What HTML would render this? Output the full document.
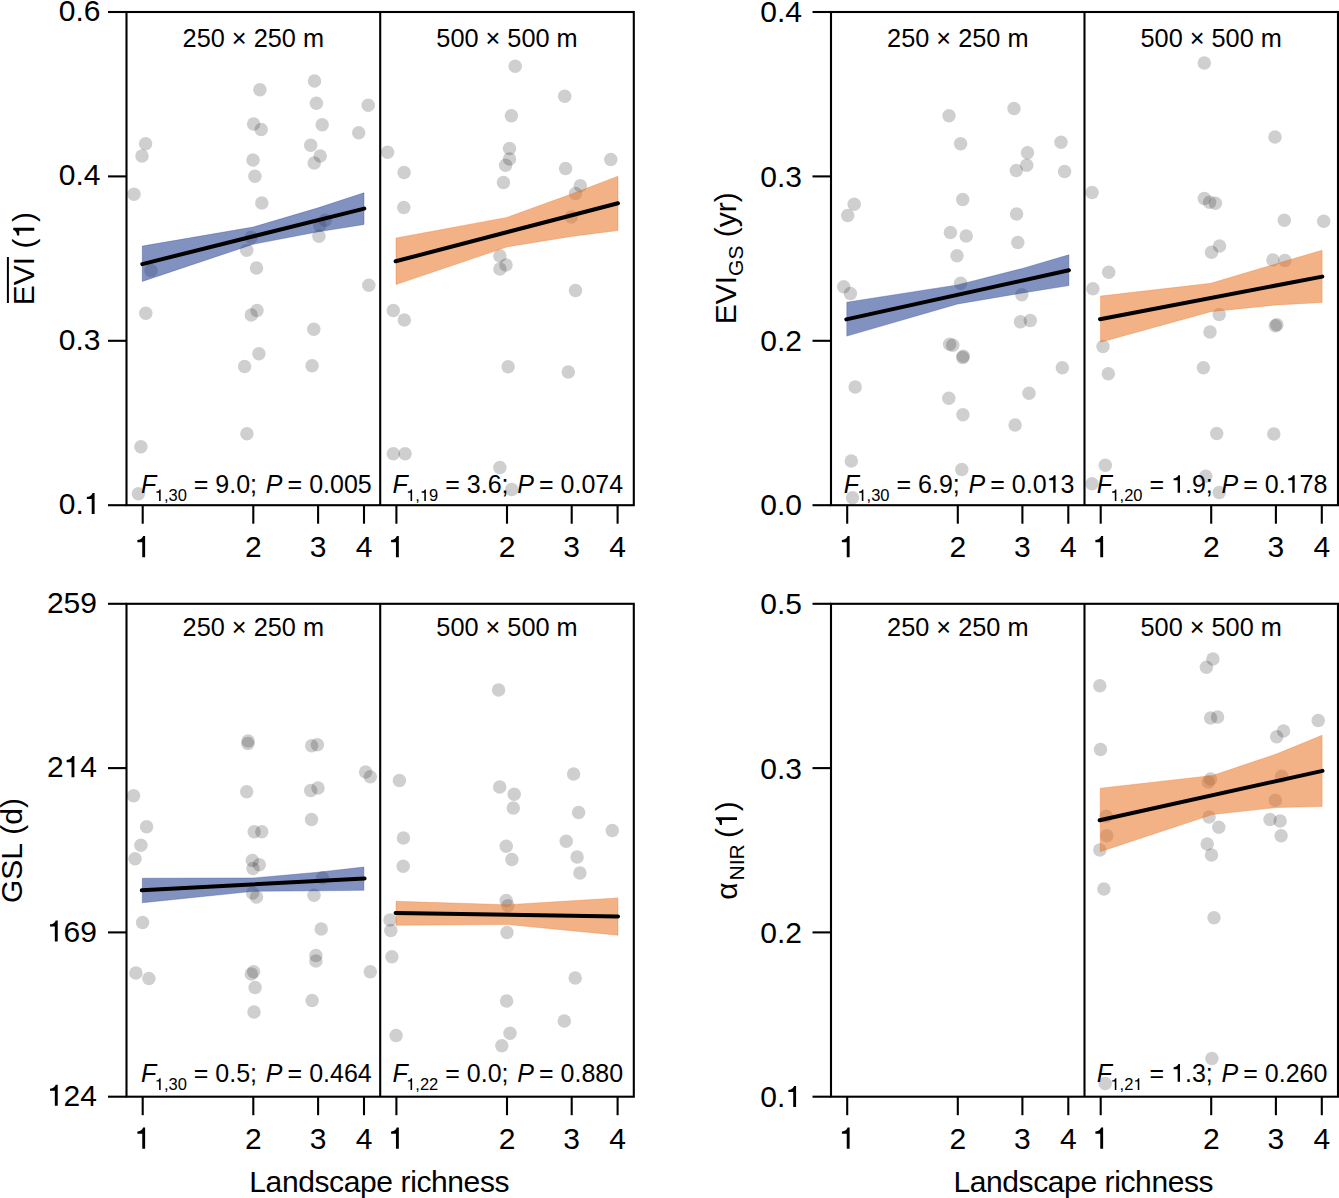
<!DOCTYPE html>
<html><head><meta charset="utf-8"><style>
html,body{margin:0;padding:0;background:#fff;}
body{width:1339px;height:1198px;overflow:hidden;}
svg{display:block;}
text{font-family:"Liberation Sans", sans-serif;font-kerning:none;}
</style></head><body>
<svg width="1339" height="1198" viewBox="0 0 1339 1198" font-family='"Liberation Sans", sans-serif'>
<rect width="1339" height="1198" fill="#fff"/>
<circle cx="314.5" cy="80.9" r="6.75" fill="#000" fill-opacity="0.19"/>
<circle cx="259.9" cy="89.8" r="6.75" fill="#000" fill-opacity="0.19"/>
<circle cx="316.4" cy="103.3" r="6.75" fill="#000" fill-opacity="0.19"/>
<circle cx="368.2" cy="105.2" r="6.75" fill="#000" fill-opacity="0.19"/>
<circle cx="322.2" cy="124.8" r="6.75" fill="#000" fill-opacity="0.19"/>
<circle cx="253.6" cy="123.9" r="6.75" fill="#000" fill-opacity="0.19"/>
<circle cx="261.2" cy="129.6" r="6.75" fill="#000" fill-opacity="0.19"/>
<circle cx="358.7" cy="132.7" r="6.75" fill="#000" fill-opacity="0.19"/>
<circle cx="145.6" cy="143.7" r="6.75" fill="#000" fill-opacity="0.19"/>
<circle cx="142.0" cy="155.9" r="6.75" fill="#000" fill-opacity="0.19"/>
<circle cx="310.7" cy="145.2" r="6.75" fill="#000" fill-opacity="0.19"/>
<circle cx="320.2" cy="156.1" r="6.75" fill="#000" fill-opacity="0.19"/>
<circle cx="314.2" cy="162.9" r="6.75" fill="#000" fill-opacity="0.19"/>
<circle cx="253.0" cy="160.1" r="6.75" fill="#000" fill-opacity="0.19"/>
<circle cx="254.9" cy="176.3" r="6.75" fill="#000" fill-opacity="0.19"/>
<circle cx="134.0" cy="194.2" r="6.75" fill="#000" fill-opacity="0.19"/>
<circle cx="261.8" cy="202.9" r="6.75" fill="#000" fill-opacity="0.19"/>
<circle cx="325.2" cy="220.2" r="6.75" fill="#000" fill-opacity="0.19"/>
<circle cx="319.7" cy="225.2" r="6.75" fill="#000" fill-opacity="0.19"/>
<circle cx="318.9" cy="236.2" r="6.75" fill="#000" fill-opacity="0.19"/>
<circle cx="251.1" cy="237.2" r="6.75" fill="#000" fill-opacity="0.19"/>
<circle cx="246.7" cy="250.2" r="6.75" fill="#000" fill-opacity="0.19"/>
<circle cx="151.0" cy="270.6" r="6.75" fill="#000" fill-opacity="0.19"/>
<circle cx="256.5" cy="268.1" r="6.75" fill="#000" fill-opacity="0.19"/>
<circle cx="368.8" cy="285.2" r="6.75" fill="#000" fill-opacity="0.19"/>
<circle cx="145.8" cy="313.2" r="6.75" fill="#000" fill-opacity="0.19"/>
<circle cx="257.0" cy="310.4" r="6.75" fill="#000" fill-opacity="0.19"/>
<circle cx="251.3" cy="314.9" r="6.75" fill="#000" fill-opacity="0.19"/>
<circle cx="313.8" cy="329.2" r="6.75" fill="#000" fill-opacity="0.19"/>
<circle cx="258.9" cy="353.8" r="6.75" fill="#000" fill-opacity="0.19"/>
<circle cx="244.6" cy="366.5" r="6.75" fill="#000" fill-opacity="0.19"/>
<circle cx="312.1" cy="365.8" r="6.75" fill="#000" fill-opacity="0.19"/>
<circle cx="246.9" cy="433.8" r="6.75" fill="#000" fill-opacity="0.19"/>
<circle cx="140.9" cy="446.7" r="6.75" fill="#000" fill-opacity="0.19"/>
<circle cx="138.4" cy="493.7" r="6.75" fill="#000" fill-opacity="0.19"/>
<circle cx="515.2" cy="66.2" r="6.75" fill="#000" fill-opacity="0.19"/>
<circle cx="564.7" cy="96.3" r="6.75" fill="#000" fill-opacity="0.19"/>
<circle cx="511.4" cy="115.7" r="6.75" fill="#000" fill-opacity="0.19"/>
<circle cx="387.6" cy="152.3" r="6.75" fill="#000" fill-opacity="0.19"/>
<circle cx="509.5" cy="148.6" r="6.75" fill="#000" fill-opacity="0.19"/>
<circle cx="509.5" cy="159.1" r="6.75" fill="#000" fill-opacity="0.19"/>
<circle cx="505.6" cy="165.2" r="6.75" fill="#000" fill-opacity="0.19"/>
<circle cx="610.8" cy="159.5" r="6.75" fill="#000" fill-opacity="0.19"/>
<circle cx="404.1" cy="172.5" r="6.75" fill="#000" fill-opacity="0.19"/>
<circle cx="565.6" cy="168.5" r="6.75" fill="#000" fill-opacity="0.19"/>
<circle cx="503.4" cy="182.4" r="6.75" fill="#000" fill-opacity="0.19"/>
<circle cx="580.3" cy="185.8" r="6.75" fill="#000" fill-opacity="0.19"/>
<circle cx="575.5" cy="193.4" r="6.75" fill="#000" fill-opacity="0.19"/>
<circle cx="403.8" cy="207.5" r="6.75" fill="#000" fill-opacity="0.19"/>
<circle cx="571.3" cy="217.0" r="6.75" fill="#000" fill-opacity="0.19"/>
<circle cx="499.9" cy="256.1" r="6.75" fill="#000" fill-opacity="0.19"/>
<circle cx="506.0" cy="264.9" r="6.75" fill="#000" fill-opacity="0.19"/>
<circle cx="499.9" cy="269.0" r="6.75" fill="#000" fill-opacity="0.19"/>
<circle cx="575.5" cy="290.6" r="6.75" fill="#000" fill-opacity="0.19"/>
<circle cx="393.3" cy="310.4" r="6.75" fill="#000" fill-opacity="0.19"/>
<circle cx="404.3" cy="320.1" r="6.75" fill="#000" fill-opacity="0.19"/>
<circle cx="508.1" cy="366.7" r="6.75" fill="#000" fill-opacity="0.19"/>
<circle cx="568.3" cy="371.9" r="6.75" fill="#000" fill-opacity="0.19"/>
<circle cx="393.3" cy="453.7" r="6.75" fill="#000" fill-opacity="0.19"/>
<circle cx="405.1" cy="453.7" r="6.75" fill="#000" fill-opacity="0.19"/>
<circle cx="499.9" cy="467.6" r="6.75" fill="#000" fill-opacity="0.19"/>
<circle cx="511.7" cy="489.5" r="6.75" fill="#000" fill-opacity="0.19"/>
<circle cx="1014.0" cy="108.6" r="6.75" fill="#000" fill-opacity="0.19"/>
<circle cx="949.0" cy="115.8" r="6.75" fill="#000" fill-opacity="0.19"/>
<circle cx="960.6" cy="143.8" r="6.75" fill="#000" fill-opacity="0.19"/>
<circle cx="1061.0" cy="142.3" r="6.75" fill="#000" fill-opacity="0.19"/>
<circle cx="1027.5" cy="152.7" r="6.75" fill="#000" fill-opacity="0.19"/>
<circle cx="1026.7" cy="165.3" r="6.75" fill="#000" fill-opacity="0.19"/>
<circle cx="1016.3" cy="170.6" r="6.75" fill="#000" fill-opacity="0.19"/>
<circle cx="1064.6" cy="171.4" r="6.75" fill="#000" fill-opacity="0.19"/>
<circle cx="854.2" cy="204.2" r="6.75" fill="#000" fill-opacity="0.19"/>
<circle cx="847.7" cy="215.6" r="6.75" fill="#000" fill-opacity="0.19"/>
<circle cx="962.7" cy="199.6" r="6.75" fill="#000" fill-opacity="0.19"/>
<circle cx="1016.6" cy="213.9" r="6.75" fill="#000" fill-opacity="0.19"/>
<circle cx="950.4" cy="232.6" r="6.75" fill="#000" fill-opacity="0.19"/>
<circle cx="966.2" cy="235.9" r="6.75" fill="#000" fill-opacity="0.19"/>
<circle cx="1017.8" cy="242.5" r="6.75" fill="#000" fill-opacity="0.19"/>
<circle cx="957.0" cy="255.7" r="6.75" fill="#000" fill-opacity="0.19"/>
<circle cx="843.7" cy="286.8" r="6.75" fill="#000" fill-opacity="0.19"/>
<circle cx="850.4" cy="293.4" r="6.75" fill="#000" fill-opacity="0.19"/>
<circle cx="960.6" cy="283.3" r="6.75" fill="#000" fill-opacity="0.19"/>
<circle cx="1021.8" cy="294.7" r="6.75" fill="#000" fill-opacity="0.19"/>
<circle cx="1020.4" cy="321.8" r="6.75" fill="#000" fill-opacity="0.19"/>
<circle cx="1030.3" cy="320.5" r="6.75" fill="#000" fill-opacity="0.19"/>
<circle cx="949.6" cy="344.3" r="6.75" fill="#000" fill-opacity="0.19"/>
<circle cx="952.8" cy="345.2" r="6.75" fill="#000" fill-opacity="0.19"/>
<circle cx="963.3" cy="356.3" r="6.75" fill="#000" fill-opacity="0.19"/>
<circle cx="962.7" cy="357.6" r="6.75" fill="#000" fill-opacity="0.19"/>
<circle cx="1062.3" cy="367.7" r="6.75" fill="#000" fill-opacity="0.19"/>
<circle cx="855.2" cy="386.9" r="6.75" fill="#000" fill-opacity="0.19"/>
<circle cx="948.8" cy="398.3" r="6.75" fill="#000" fill-opacity="0.19"/>
<circle cx="1029.0" cy="393.2" r="6.75" fill="#000" fill-opacity="0.19"/>
<circle cx="962.9" cy="414.8" r="6.75" fill="#000" fill-opacity="0.19"/>
<circle cx="1015.1" cy="425.0" r="6.75" fill="#000" fill-opacity="0.19"/>
<circle cx="851.3" cy="460.9" r="6.75" fill="#000" fill-opacity="0.19"/>
<circle cx="961.8" cy="469.5" r="6.75" fill="#000" fill-opacity="0.19"/>
<circle cx="852.5" cy="497.7" r="6.75" fill="#000" fill-opacity="0.19"/>
<circle cx="1204.3" cy="62.9" r="6.75" fill="#000" fill-opacity="0.19"/>
<circle cx="1275.0" cy="137.1" r="6.75" fill="#000" fill-opacity="0.19"/>
<circle cx="1092.1" cy="192.4" r="6.75" fill="#000" fill-opacity="0.19"/>
<circle cx="1204.3" cy="198.6" r="6.75" fill="#000" fill-opacity="0.19"/>
<circle cx="1209.6" cy="202.3" r="6.75" fill="#000" fill-opacity="0.19"/>
<circle cx="1215.4" cy="203.2" r="6.75" fill="#000" fill-opacity="0.19"/>
<circle cx="1284.3" cy="220.3" r="6.75" fill="#000" fill-opacity="0.19"/>
<circle cx="1323.7" cy="221.3" r="6.75" fill="#000" fill-opacity="0.19"/>
<circle cx="1219.5" cy="246.0" r="6.75" fill="#000" fill-opacity="0.19"/>
<circle cx="1211.5" cy="252.3" r="6.75" fill="#000" fill-opacity="0.19"/>
<circle cx="1272.9" cy="259.9" r="6.75" fill="#000" fill-opacity="0.19"/>
<circle cx="1284.9" cy="260.5" r="6.75" fill="#000" fill-opacity="0.19"/>
<circle cx="1108.7" cy="272.3" r="6.75" fill="#000" fill-opacity="0.19"/>
<circle cx="1092.9" cy="288.7" r="6.75" fill="#000" fill-opacity="0.19"/>
<circle cx="1219.2" cy="314.4" r="6.75" fill="#000" fill-opacity="0.19"/>
<circle cx="1210.0" cy="331.9" r="6.75" fill="#000" fill-opacity="0.19"/>
<circle cx="1276.9" cy="324.8" r="6.75" fill="#000" fill-opacity="0.19"/>
<circle cx="1275.3" cy="325.8" r="6.75" fill="#000" fill-opacity="0.19"/>
<circle cx="1103.0" cy="346.5" r="6.75" fill="#000" fill-opacity="0.19"/>
<circle cx="1108.3" cy="373.8" r="6.75" fill="#000" fill-opacity="0.19"/>
<circle cx="1203.4" cy="367.7" r="6.75" fill="#000" fill-opacity="0.19"/>
<circle cx="1216.7" cy="433.4" r="6.75" fill="#000" fill-opacity="0.19"/>
<circle cx="1273.8" cy="434.0" r="6.75" fill="#000" fill-opacity="0.19"/>
<circle cx="1105.3" cy="465.3" r="6.75" fill="#000" fill-opacity="0.19"/>
<circle cx="1092.0" cy="483.8" r="6.75" fill="#000" fill-opacity="0.19"/>
<circle cx="1205.8" cy="476.2" r="6.75" fill="#000" fill-opacity="0.19"/>
<circle cx="1219.2" cy="492.4" r="6.75" fill="#000" fill-opacity="0.19"/>
<circle cx="248.1" cy="740.9" r="6.75" fill="#000" fill-opacity="0.19"/>
<circle cx="247.9" cy="743.4" r="6.75" fill="#000" fill-opacity="0.19"/>
<circle cx="311.7" cy="745.7" r="6.75" fill="#000" fill-opacity="0.19"/>
<circle cx="317.4" cy="744.7" r="6.75" fill="#000" fill-opacity="0.19"/>
<circle cx="365.6" cy="772.0" r="6.75" fill="#000" fill-opacity="0.19"/>
<circle cx="370.3" cy="776.7" r="6.75" fill="#000" fill-opacity="0.19"/>
<circle cx="133.6" cy="795.8" r="6.75" fill="#000" fill-opacity="0.19"/>
<circle cx="246.7" cy="791.8" r="6.75" fill="#000" fill-opacity="0.19"/>
<circle cx="310.7" cy="790.4" r="6.75" fill="#000" fill-opacity="0.19"/>
<circle cx="318.0" cy="788.0" r="6.75" fill="#000" fill-opacity="0.19"/>
<circle cx="146.6" cy="826.8" r="6.75" fill="#000" fill-opacity="0.19"/>
<circle cx="311.5" cy="819.5" r="6.75" fill="#000" fill-opacity="0.19"/>
<circle cx="254.2" cy="831.8" r="6.75" fill="#000" fill-opacity="0.19"/>
<circle cx="261.8" cy="831.8" r="6.75" fill="#000" fill-opacity="0.19"/>
<circle cx="140.9" cy="845.2" r="6.75" fill="#000" fill-opacity="0.19"/>
<circle cx="135.0" cy="858.7" r="6.75" fill="#000" fill-opacity="0.19"/>
<circle cx="252.3" cy="860.4" r="6.75" fill="#000" fill-opacity="0.19"/>
<circle cx="259.3" cy="864.8" r="6.75" fill="#000" fill-opacity="0.19"/>
<circle cx="253.0" cy="868.6" r="6.75" fill="#000" fill-opacity="0.19"/>
<circle cx="322.5" cy="877.7" r="6.75" fill="#000" fill-opacity="0.19"/>
<circle cx="252.6" cy="892.9" r="6.75" fill="#000" fill-opacity="0.19"/>
<circle cx="256.5" cy="897.1" r="6.75" fill="#000" fill-opacity="0.19"/>
<circle cx="314.0" cy="895.2" r="6.75" fill="#000" fill-opacity="0.19"/>
<circle cx="142.6" cy="922.5" r="6.75" fill="#000" fill-opacity="0.19"/>
<circle cx="321.2" cy="928.9" r="6.75" fill="#000" fill-opacity="0.19"/>
<circle cx="315.9" cy="955.6" r="6.75" fill="#000" fill-opacity="0.19"/>
<circle cx="315.9" cy="960.9" r="6.75" fill="#000" fill-opacity="0.19"/>
<circle cx="135.9" cy="972.9" r="6.75" fill="#000" fill-opacity="0.19"/>
<circle cx="148.9" cy="978.4" r="6.75" fill="#000" fill-opacity="0.19"/>
<circle cx="253.6" cy="971.8" r="6.75" fill="#000" fill-opacity="0.19"/>
<circle cx="251.3" cy="973.9" r="6.75" fill="#000" fill-opacity="0.19"/>
<circle cx="255.1" cy="987.6" r="6.75" fill="#000" fill-opacity="0.19"/>
<circle cx="370.3" cy="971.8" r="6.75" fill="#000" fill-opacity="0.19"/>
<circle cx="312.1" cy="1000.5" r="6.75" fill="#000" fill-opacity="0.19"/>
<circle cx="254.0" cy="1012.0" r="6.75" fill="#000" fill-opacity="0.19"/>
<circle cx="498.6" cy="689.9" r="6.75" fill="#000" fill-opacity="0.19"/>
<circle cx="399.4" cy="780.5" r="6.75" fill="#000" fill-opacity="0.19"/>
<circle cx="499.7" cy="787.0" r="6.75" fill="#000" fill-opacity="0.19"/>
<circle cx="514.2" cy="794.3" r="6.75" fill="#000" fill-opacity="0.19"/>
<circle cx="513.3" cy="808.0" r="6.75" fill="#000" fill-opacity="0.19"/>
<circle cx="573.6" cy="773.9" r="6.75" fill="#000" fill-opacity="0.19"/>
<circle cx="578.6" cy="812.4" r="6.75" fill="#000" fill-opacity="0.19"/>
<circle cx="612.3" cy="830.4" r="6.75" fill="#000" fill-opacity="0.19"/>
<circle cx="403.4" cy="838.1" r="6.75" fill="#000" fill-opacity="0.19"/>
<circle cx="566.2" cy="841.2" r="6.75" fill="#000" fill-opacity="0.19"/>
<circle cx="506.2" cy="846.2" r="6.75" fill="#000" fill-opacity="0.19"/>
<circle cx="577.1" cy="857.1" r="6.75" fill="#000" fill-opacity="0.19"/>
<circle cx="511.9" cy="859.6" r="6.75" fill="#000" fill-opacity="0.19"/>
<circle cx="403.2" cy="866.2" r="6.75" fill="#000" fill-opacity="0.19"/>
<circle cx="579.9" cy="872.9" r="6.75" fill="#000" fill-opacity="0.19"/>
<circle cx="506.2" cy="900.6" r="6.75" fill="#000" fill-opacity="0.19"/>
<circle cx="507.9" cy="905.7" r="6.75" fill="#000" fill-opacity="0.19"/>
<circle cx="390.0" cy="920.0" r="6.75" fill="#000" fill-opacity="0.19"/>
<circle cx="390.8" cy="930.5" r="6.75" fill="#000" fill-opacity="0.19"/>
<circle cx="507.0" cy="932.4" r="6.75" fill="#000" fill-opacity="0.19"/>
<circle cx="391.9" cy="956.7" r="6.75" fill="#000" fill-opacity="0.19"/>
<circle cx="575.2" cy="978.1" r="6.75" fill="#000" fill-opacity="0.19"/>
<circle cx="506.6" cy="1000.9" r="6.75" fill="#000" fill-opacity="0.19"/>
<circle cx="564.3" cy="1020.9" r="6.75" fill="#000" fill-opacity="0.19"/>
<circle cx="396.1" cy="1035.6" r="6.75" fill="#000" fill-opacity="0.19"/>
<circle cx="510.0" cy="1033.3" r="6.75" fill="#000" fill-opacity="0.19"/>
<circle cx="501.8" cy="1045.7" r="6.75" fill="#000" fill-opacity="0.19"/>
<circle cx="1212.9" cy="659.0" r="6.75" fill="#000" fill-opacity="0.19"/>
<circle cx="1206.4" cy="667.2" r="6.75" fill="#000" fill-opacity="0.19"/>
<circle cx="1099.8" cy="685.7" r="6.75" fill="#000" fill-opacity="0.19"/>
<circle cx="1210.6" cy="718.1" r="6.75" fill="#000" fill-opacity="0.19"/>
<circle cx="1217.6" cy="717.1" r="6.75" fill="#000" fill-opacity="0.19"/>
<circle cx="1318.2" cy="720.6" r="6.75" fill="#000" fill-opacity="0.19"/>
<circle cx="1283.5" cy="731.0" r="6.75" fill="#000" fill-opacity="0.19"/>
<circle cx="1276.7" cy="736.7" r="6.75" fill="#000" fill-opacity="0.19"/>
<circle cx="1100.5" cy="749.5" r="6.75" fill="#000" fill-opacity="0.19"/>
<circle cx="1210.6" cy="779.0" r="6.75" fill="#000" fill-opacity="0.19"/>
<circle cx="1208.3" cy="781.9" r="6.75" fill="#000" fill-opacity="0.19"/>
<circle cx="1281.6" cy="776.2" r="6.75" fill="#000" fill-opacity="0.19"/>
<circle cx="1275.3" cy="800.3" r="6.75" fill="#000" fill-opacity="0.19"/>
<circle cx="1106.2" cy="816.2" r="6.75" fill="#000" fill-opacity="0.19"/>
<circle cx="1209.1" cy="817.1" r="6.75" fill="#000" fill-opacity="0.19"/>
<circle cx="1218.8" cy="827.2" r="6.75" fill="#000" fill-opacity="0.19"/>
<circle cx="1270.0" cy="819.6" r="6.75" fill="#000" fill-opacity="0.19"/>
<circle cx="1280.1" cy="820.9" r="6.75" fill="#000" fill-opacity="0.19"/>
<circle cx="1106.8" cy="835.7" r="6.75" fill="#000" fill-opacity="0.19"/>
<circle cx="1281.1" cy="835.7" r="6.75" fill="#000" fill-opacity="0.19"/>
<circle cx="1207.2" cy="844.0" r="6.75" fill="#000" fill-opacity="0.19"/>
<circle cx="1099.8" cy="850.1" r="6.75" fill="#000" fill-opacity="0.19"/>
<circle cx="1211.5" cy="854.9" r="6.75" fill="#000" fill-opacity="0.19"/>
<circle cx="1103.9" cy="888.9" r="6.75" fill="#000" fill-opacity="0.19"/>
<circle cx="1214.0" cy="917.7" r="6.75" fill="#000" fill-opacity="0.19"/>
<circle cx="1211.9" cy="1058.5" r="6.75" fill="#000" fill-opacity="0.19"/>
<circle cx="1105.2" cy="1083.5" r="6.75" fill="#000" fill-opacity="0.19"/>
<polygon points="142.3,246.1 253.3,227.0 318.2,207.8 364.0,192.8 364.0,224.5 318.2,231.8 253.3,244.2 142.3,281.4" fill="#1c398c" fill-opacity="0.55" stroke="#1c398c" stroke-opacity="0.44" stroke-width="0.7" stroke-linejoin="miter"/>
<polygon points="396.0,238.0 506.8,217.4 571.3,194.1 618.0,176.2 618.0,230.5 571.3,236.4 506.8,247.0 396.0,284.6" fill="#e97123" fill-opacity="0.55" stroke="#e97123" stroke-opacity="0.44" stroke-width="0.7" stroke-linejoin="miter"/>
<polygon points="846.8,302.2 957.6,284.9 1022.5,268.4 1068.9,254.8 1068.9,285.6 1022.5,293.0 957.6,304.0 846.8,336.1" fill="#1c398c" fill-opacity="0.55" stroke="#1c398c" stroke-opacity="0.44" stroke-width="0.7" stroke-linejoin="miter"/>
<polygon points="1100.5,296.1 1210.7,283.3 1277.0,263.6 1322.1,250.2 1322.1,302.5 1277.0,304.9 1210.7,311.7 1100.5,342.2" fill="#e97123" fill-opacity="0.55" stroke="#e97123" stroke-opacity="0.44" stroke-width="0.7" stroke-linejoin="miter"/>
<polygon points="142.3,878.2 253.3,878.0 318.2,872.2 363.9,867.0 363.9,890.3 318.2,890.8 253.3,891.3 142.3,902.8" fill="#1c398c" fill-opacity="0.55" stroke="#1c398c" stroke-opacity="0.44" stroke-width="0.7" stroke-linejoin="miter"/>
<polygon points="396.0,901.3 507.5,904.7 571.3,900.8 618.0,897.9 618.0,935.2 571.3,930.7 507.5,924.5 396.0,925.3" fill="#e97123" fill-opacity="0.55" stroke="#e97123" stroke-opacity="0.44" stroke-width="0.7" stroke-linejoin="miter"/>
<polygon points="1100.2,788.2 1212.5,775.5 1277.5,753.6 1322.1,735.2 1322.1,806.6 1277.5,807.5 1212.5,814.5 1100.2,851.7" fill="#e97123" fill-opacity="0.55" stroke="#e97123" stroke-opacity="0.44" stroke-width="0.7" stroke-linejoin="miter"/>
<line x1="142.3" y1="264.1" x2="364.3" y2="208.6" stroke="#000" stroke-width="4.0" stroke-linecap="round"/>
<line x1="395.6" y1="261.3" x2="618" y2="203.2" stroke="#000" stroke-width="4.0" stroke-linecap="round"/>
<line x1="846.3" y1="319.4" x2="1068.9" y2="270.3" stroke="#000" stroke-width="4.0" stroke-linecap="round"/>
<line x1="1100" y1="319.2" x2="1322.3" y2="276.6" stroke="#000" stroke-width="4.0" stroke-linecap="round"/>
<line x1="141.8" y1="890.3" x2="364.6" y2="878.5" stroke="#000" stroke-width="4.0" stroke-linecap="round"/>
<line x1="395.6" y1="912.9" x2="618" y2="916.4" stroke="#000" stroke-width="4.0" stroke-linecap="round"/>
<line x1="1099.7" y1="820.2" x2="1322.5" y2="770.9" stroke="#000" stroke-width="4.0" stroke-linecap="round"/>
<rect x="126.5" y="12" width="507.29999999999995" height="493.2" fill="none" stroke="#000" stroke-width="2.1"/>
<line x1="380.2" y1="12" x2="380.2" y2="505.2" stroke="#000" stroke-width="2.1"/>
<line x1="108.0" y1="12.0" x2="126.5" y2="12.0" stroke="#000" stroke-width="2.1"/>
<text xml:space="preserve" x="58.80" y="20.80" font-size="30">0.6</text>
<line x1="108.0" y1="176.4" x2="126.5" y2="176.4" stroke="#000" stroke-width="2.1"/>
<text xml:space="preserve" x="58.80" y="185.20" font-size="30">0.4</text>
<line x1="108.0" y1="340.8" x2="126.5" y2="340.8" stroke="#000" stroke-width="2.1"/>
<text xml:space="preserve" x="58.80" y="349.60" font-size="30">0.3</text>
<line x1="108.0" y1="505.2" x2="126.5" y2="505.2" stroke="#000" stroke-width="2.1"/>
<text xml:space="preserve" x="58.80" y="514.00" font-size="30">0. </text><path d="M359 0V703H290C270 640 228 586 101 572V502H263V0Z" transform="translate(83.82,514.00) scale(0.0300,-0.0300)"/>
<line x1="142.7" y1="505.2" x2="142.7" y2="523.7" stroke="#000" stroke-width="2.1"/>
<text xml:space="preserve" x="134.36" y="557.20" font-size="30"> </text><path d="M359 0V703H290C270 640 228 586 101 572V502H263V0Z" transform="translate(134.36,557.20) scale(0.0300,-0.0300)"/>
<line x1="253.3" y1="505.2" x2="253.3" y2="523.7" stroke="#000" stroke-width="2.1"/>
<text xml:space="preserve" x="245.01" y="557.20" font-size="30">2</text>
<line x1="318.1" y1="505.2" x2="318.1" y2="523.7" stroke="#000" stroke-width="2.1"/>
<text xml:space="preserve" x="309.73" y="557.20" font-size="30">3</text>
<line x1="364.0" y1="505.2" x2="364.0" y2="523.7" stroke="#000" stroke-width="2.1"/>
<text xml:space="preserve" x="355.66" y="557.20" font-size="30">4</text>
<line x1="396.4" y1="505.2" x2="396.4" y2="523.7" stroke="#000" stroke-width="2.1"/>
<text xml:space="preserve" x="388.06" y="557.20" font-size="30"> </text><path d="M359 0V703H290C270 640 228 586 101 572V502H263V0Z" transform="translate(388.06,557.20) scale(0.0300,-0.0300)"/>
<line x1="507.0" y1="505.2" x2="507.0" y2="523.7" stroke="#000" stroke-width="2.1"/>
<text xml:space="preserve" x="498.66" y="557.20" font-size="30">2</text>
<line x1="571.7" y1="505.2" x2="571.7" y2="523.7" stroke="#000" stroke-width="2.1"/>
<text xml:space="preserve" x="563.35" y="557.20" font-size="30">3</text>
<line x1="617.6" y1="505.2" x2="617.6" y2="523.7" stroke="#000" stroke-width="2.1"/>
<text xml:space="preserve" x="609.26" y="557.20" font-size="30">4</text>
<text x="253.3" y="47.3" font-size="25.3" text-anchor="middle">250 × 250 m</text>
<text x="507.0" y="47.3" font-size="25.3" text-anchor="middle">500 × 500 m</text>
<text xml:space="preserve" x="141.08" y="492.80" font-size="25" font-style="italic">F</text><text xml:space="preserve" x="154.75" y="501.00" font-size="16.5"> ,30</text><path d="M359 0V703H290C270 640 228 586 101 572V502H263V0Z" transform="translate(154.75,501.00) scale(0.0165,-0.0165)"/><text xml:space="preserve" x="186.86" y="492.80" font-size="25"> = 9.0; </text><text xml:space="preserve" x="265.80" y="492.80" font-size="25" font-style="italic">P</text><text xml:space="preserve" x="280.67" y="492.80" font-size="25"> = 0.005</text>
<text xml:space="preserve" x="392.53" y="492.80" font-size="25" font-style="italic">F</text><text xml:space="preserve" x="406.20" y="501.00" font-size="16.5"> , 9</text><path d="M359 0V703H290C270 640 228 586 101 572V502H263V0Z" transform="translate(406.20,501.00) scale(0.0165,-0.0165)"/><path d="M359 0V703H290C270 640 228 586 101 572V502H263V0Z" transform="translate(419.96,501.00) scale(0.0165,-0.0165)"/><text xml:space="preserve" x="438.31" y="492.80" font-size="25"> = 3.6; </text><text xml:space="preserve" x="517.25" y="492.80" font-size="25" font-style="italic">P</text><text xml:space="preserve" x="532.12" y="492.80" font-size="25"> = 0.074</text>
<rect x="831" y="12" width="507" height="493.2" fill="none" stroke="#000" stroke-width="2.1"/>
<line x1="1084.5" y1="12" x2="1084.5" y2="505.2" stroke="#000" stroke-width="2.1"/>
<line x1="812.5" y1="12.0" x2="831" y2="12.0" stroke="#000" stroke-width="2.1"/>
<text xml:space="preserve" x="760.30" y="22.10" font-size="30">0.4</text>
<line x1="812.5" y1="176.4" x2="831" y2="176.4" stroke="#000" stroke-width="2.1"/>
<text xml:space="preserve" x="760.30" y="186.50" font-size="30">0.3</text>
<line x1="812.5" y1="340.8" x2="831" y2="340.8" stroke="#000" stroke-width="2.1"/>
<text xml:space="preserve" x="760.30" y="350.90" font-size="30">0.2</text>
<line x1="812.5" y1="505.2" x2="831" y2="505.2" stroke="#000" stroke-width="2.1"/>
<text xml:space="preserve" x="760.30" y="515.30" font-size="30">0.0</text>
<line x1="847.2" y1="505.2" x2="847.2" y2="523.7" stroke="#000" stroke-width="2.1"/>
<text xml:space="preserve" x="838.86" y="557.20" font-size="30"> </text><path d="M359 0V703H290C270 640 228 586 101 572V502H263V0Z" transform="translate(838.86,557.20) scale(0.0300,-0.0300)"/>
<line x1="957.8" y1="505.2" x2="957.8" y2="523.7" stroke="#000" stroke-width="2.1"/>
<text xml:space="preserve" x="949.41" y="557.20" font-size="30">2</text>
<line x1="1022.4" y1="505.2" x2="1022.4" y2="523.7" stroke="#000" stroke-width="2.1"/>
<text xml:space="preserve" x="1014.08" y="557.20" font-size="30">3</text>
<line x1="1068.3" y1="505.2" x2="1068.3" y2="523.7" stroke="#000" stroke-width="2.1"/>
<text xml:space="preserve" x="1059.96" y="557.20" font-size="30">4</text>
<line x1="1100.7" y1="505.2" x2="1100.7" y2="523.7" stroke="#000" stroke-width="2.1"/>
<text xml:space="preserve" x="1092.36" y="557.20" font-size="30"> </text><path d="M359 0V703H290C270 640 228 586 101 572V502H263V0Z" transform="translate(1092.36,557.20) scale(0.0300,-0.0300)"/>
<line x1="1211.2" y1="505.2" x2="1211.2" y2="523.7" stroke="#000" stroke-width="2.1"/>
<text xml:space="preserve" x="1202.91" y="557.20" font-size="30">2</text>
<line x1="1275.9" y1="505.2" x2="1275.9" y2="523.7" stroke="#000" stroke-width="2.1"/>
<text xml:space="preserve" x="1267.58" y="557.20" font-size="30">3</text>
<line x1="1321.8" y1="505.2" x2="1321.8" y2="523.7" stroke="#000" stroke-width="2.1"/>
<text xml:space="preserve" x="1313.46" y="557.20" font-size="30">4</text>
<text x="957.8" y="47.3" font-size="25.3" text-anchor="middle">250 × 250 m</text>
<text x="1211.2" y="47.3" font-size="25.3" text-anchor="middle">500 × 500 m</text>
<text xml:space="preserve" x="843.78" y="492.80" font-size="25" font-style="italic">F</text><text xml:space="preserve" x="857.45" y="501.00" font-size="16.5"> ,30</text><path d="M359 0V703H290C270 640 228 586 101 572V502H263V0Z" transform="translate(857.45,501.00) scale(0.0165,-0.0165)"/><text xml:space="preserve" x="889.56" y="492.80" font-size="25"> = 6.9; </text><text xml:space="preserve" x="968.50" y="492.80" font-size="25" font-style="italic">P</text><text xml:space="preserve" x="983.37" y="492.80" font-size="25"> = 0.0 3</text><path d="M359 0V703H290C270 640 228 586 101 572V502H263V0Z" transform="translate(1046.62,492.80) scale(0.0250,-0.0250)"/>
<text xml:space="preserve" x="1096.78" y="492.80" font-size="25" font-style="italic">F</text><text xml:space="preserve" x="1110.45" y="501.00" font-size="16.5"> ,20</text><path d="M359 0V703H290C270 640 228 586 101 572V502H263V0Z" transform="translate(1110.45,501.00) scale(0.0165,-0.0165)"/><text xml:space="preserve" x="1142.56" y="492.80" font-size="25"> =  .9; </text><path d="M359 0V703H290C270 640 228 586 101 572V502H263V0Z" transform="translate(1171.05,492.80) scale(0.0250,-0.0250)"/><text xml:space="preserve" x="1221.50" y="492.80" font-size="25" font-style="italic">P</text><text xml:space="preserve" x="1236.37" y="492.80" font-size="25"> = 0. 78</text><path d="M359 0V703H290C270 640 228 586 101 572V502H263V0Z" transform="translate(1285.71,492.80) scale(0.0250,-0.0250)"/>
<rect x="126.5" y="603.8" width="507.29999999999995" height="492.9000000000001" fill="none" stroke="#000" stroke-width="2.1"/>
<line x1="380.2" y1="603.8" x2="380.2" y2="1096.7" stroke="#000" stroke-width="2.1"/>
<line x1="108.0" y1="603.8" x2="126.5" y2="603.8" stroke="#000" stroke-width="2.1"/>
<text xml:space="preserve" x="46.95" y="612.90" font-size="30">259</text>
<line x1="108.0" y1="768.1" x2="126.5" y2="768.1" stroke="#000" stroke-width="2.1"/>
<text xml:space="preserve" x="46.95" y="777.20" font-size="30">2 4</text><path d="M359 0V703H290C270 640 228 586 101 572V502H263V0Z" transform="translate(63.63,777.20) scale(0.0300,-0.0300)"/>
<line x1="108.0" y1="932.4" x2="126.5" y2="932.4" stroke="#000" stroke-width="2.1"/>
<text xml:space="preserve" x="46.95" y="941.50" font-size="30"> 69</text><path d="M359 0V703H290C270 640 228 586 101 572V502H263V0Z" transform="translate(46.95,941.50) scale(0.0300,-0.0300)"/>
<line x1="108.0" y1="1096.7" x2="126.5" y2="1096.7" stroke="#000" stroke-width="2.1"/>
<text xml:space="preserve" x="46.95" y="1105.80" font-size="30"> 24</text><path d="M359 0V703H290C270 640 228 586 101 572V502H263V0Z" transform="translate(46.95,1105.80) scale(0.0300,-0.0300)"/>
<line x1="142.7" y1="1096.7" x2="142.7" y2="1115.2" stroke="#000" stroke-width="2.1"/>
<text xml:space="preserve" x="134.36" y="1148.70" font-size="30"> </text><path d="M359 0V703H290C270 640 228 586 101 572V502H263V0Z" transform="translate(134.36,1148.70) scale(0.0300,-0.0300)"/>
<line x1="253.3" y1="1096.7" x2="253.3" y2="1115.2" stroke="#000" stroke-width="2.1"/>
<text xml:space="preserve" x="245.01" y="1148.70" font-size="30">2</text>
<line x1="318.1" y1="1096.7" x2="318.1" y2="1115.2" stroke="#000" stroke-width="2.1"/>
<text xml:space="preserve" x="309.73" y="1148.70" font-size="30">3</text>
<line x1="364.0" y1="1096.7" x2="364.0" y2="1115.2" stroke="#000" stroke-width="2.1"/>
<text xml:space="preserve" x="355.66" y="1148.70" font-size="30">4</text>
<line x1="396.4" y1="1096.7" x2="396.4" y2="1115.2" stroke="#000" stroke-width="2.1"/>
<text xml:space="preserve" x="388.06" y="1148.70" font-size="30"> </text><path d="M359 0V703H290C270 640 228 586 101 572V502H263V0Z" transform="translate(388.06,1148.70) scale(0.0300,-0.0300)"/>
<line x1="507.0" y1="1096.7" x2="507.0" y2="1115.2" stroke="#000" stroke-width="2.1"/>
<text xml:space="preserve" x="498.66" y="1148.70" font-size="30">2</text>
<line x1="571.7" y1="1096.7" x2="571.7" y2="1115.2" stroke="#000" stroke-width="2.1"/>
<text xml:space="preserve" x="563.35" y="1148.70" font-size="30">3</text>
<line x1="617.6" y1="1096.7" x2="617.6" y2="1115.2" stroke="#000" stroke-width="2.1"/>
<text xml:space="preserve" x="609.26" y="1148.70" font-size="30">4</text>
<text x="253.3" y="636.1" font-size="25.3" text-anchor="middle">250 × 250 m</text>
<text x="507.0" y="636.1" font-size="25.3" text-anchor="middle">500 × 500 m</text>
<text xml:space="preserve" x="141.08" y="1081.70" font-size="25" font-style="italic">F</text><text xml:space="preserve" x="154.75" y="1089.90" font-size="16.5"> ,30</text><path d="M359 0V703H290C270 640 228 586 101 572V502H263V0Z" transform="translate(154.75,1089.90) scale(0.0165,-0.0165)"/><text xml:space="preserve" x="186.86" y="1081.70" font-size="25"> = 0.5; </text><text xml:space="preserve" x="265.80" y="1081.70" font-size="25" font-style="italic">P</text><text xml:space="preserve" x="280.67" y="1081.70" font-size="25"> = 0.464</text>
<text xml:space="preserve" x="392.53" y="1081.70" font-size="25" font-style="italic">F</text><text xml:space="preserve" x="406.20" y="1089.90" font-size="16.5"> ,22</text><path d="M359 0V703H290C270 640 228 586 101 572V502H263V0Z" transform="translate(406.20,1089.90) scale(0.0165,-0.0165)"/><text xml:space="preserve" x="438.31" y="1081.70" font-size="25"> = 0.0; </text><text xml:space="preserve" x="517.25" y="1081.70" font-size="25" font-style="italic">P</text><text xml:space="preserve" x="532.12" y="1081.70" font-size="25"> = 0.880</text>
<rect x="831" y="603.8" width="507" height="492.9000000000001" fill="none" stroke="#000" stroke-width="2.1"/>
<line x1="1084.5" y1="603.8" x2="1084.5" y2="1096.7" stroke="#000" stroke-width="2.1"/>
<line x1="812.5" y1="603.8" x2="831" y2="603.8" stroke="#000" stroke-width="2.1"/>
<text xml:space="preserve" x="760.30" y="614.20" font-size="30">0.5</text>
<line x1="812.5" y1="768.1" x2="831" y2="768.1" stroke="#000" stroke-width="2.1"/>
<text xml:space="preserve" x="760.30" y="778.50" font-size="30">0.3</text>
<line x1="812.5" y1="932.4" x2="831" y2="932.4" stroke="#000" stroke-width="2.1"/>
<text xml:space="preserve" x="760.30" y="942.80" font-size="30">0.2</text>
<line x1="812.5" y1="1096.7" x2="831" y2="1096.7" stroke="#000" stroke-width="2.1"/>
<text xml:space="preserve" x="760.30" y="1107.10" font-size="30">0. </text><path d="M359 0V703H290C270 640 228 586 101 572V502H263V0Z" transform="translate(785.32,1107.10) scale(0.0300,-0.0300)"/>
<line x1="847.2" y1="1096.7" x2="847.2" y2="1115.2" stroke="#000" stroke-width="2.1"/>
<text xml:space="preserve" x="838.86" y="1148.70" font-size="30"> </text><path d="M359 0V703H290C270 640 228 586 101 572V502H263V0Z" transform="translate(838.86,1148.70) scale(0.0300,-0.0300)"/>
<line x1="957.8" y1="1096.7" x2="957.8" y2="1115.2" stroke="#000" stroke-width="2.1"/>
<text xml:space="preserve" x="949.41" y="1148.70" font-size="30">2</text>
<line x1="1022.4" y1="1096.7" x2="1022.4" y2="1115.2" stroke="#000" stroke-width="2.1"/>
<text xml:space="preserve" x="1014.08" y="1148.70" font-size="30">3</text>
<line x1="1068.3" y1="1096.7" x2="1068.3" y2="1115.2" stroke="#000" stroke-width="2.1"/>
<text xml:space="preserve" x="1059.96" y="1148.70" font-size="30">4</text>
<line x1="1100.7" y1="1096.7" x2="1100.7" y2="1115.2" stroke="#000" stroke-width="2.1"/>
<text xml:space="preserve" x="1092.36" y="1148.70" font-size="30"> </text><path d="M359 0V703H290C270 640 228 586 101 572V502H263V0Z" transform="translate(1092.36,1148.70) scale(0.0300,-0.0300)"/>
<line x1="1211.2" y1="1096.7" x2="1211.2" y2="1115.2" stroke="#000" stroke-width="2.1"/>
<text xml:space="preserve" x="1202.91" y="1148.70" font-size="30">2</text>
<line x1="1275.9" y1="1096.7" x2="1275.9" y2="1115.2" stroke="#000" stroke-width="2.1"/>
<text xml:space="preserve" x="1267.58" y="1148.70" font-size="30">3</text>
<line x1="1321.8" y1="1096.7" x2="1321.8" y2="1115.2" stroke="#000" stroke-width="2.1"/>
<text xml:space="preserve" x="1313.46" y="1148.70" font-size="30">4</text>
<text x="957.8" y="636.1" font-size="25.3" text-anchor="middle">250 × 250 m</text>
<text x="1211.2" y="636.1" font-size="25.3" text-anchor="middle">500 × 500 m</text>
<text xml:space="preserve" x="1096.78" y="1081.70" font-size="25" font-style="italic">F</text><text xml:space="preserve" x="1110.45" y="1089.90" font-size="16.5"> ,2 </text><path d="M359 0V703H290C270 640 228 586 101 572V502H263V0Z" transform="translate(1110.45,1089.90) scale(0.0165,-0.0165)"/><path d="M359 0V703H290C270 640 228 586 101 572V502H263V0Z" transform="translate(1133.38,1089.90) scale(0.0165,-0.0165)"/><text xml:space="preserve" x="1142.56" y="1081.70" font-size="25"> =  .3; </text><path d="M359 0V703H290C270 640 228 586 101 572V502H263V0Z" transform="translate(1171.05,1081.70) scale(0.0250,-0.0250)"/><text xml:space="preserve" x="1221.50" y="1081.70" font-size="25" font-style="italic">P</text><text xml:space="preserve" x="1236.37" y="1081.70" font-size="25"> = 0.260</text>
<text x="379.4" y="1191.5" font-size="30" text-anchor="middle" textLength="260.2" lengthAdjust="spacing">Landscape richness</text>
<text x="1083.5" y="1191.5" font-size="30" text-anchor="middle" textLength="260.2" lengthAdjust="spacing">Landscape richness</text>
<g transform="translate(34.3,258.6) rotate(-90)"><text xml:space="preserve" x="-46.68" y="0.00" font-size="30">EVI ( )</text><path d="M359 0V703H290C270 640 228 586 101 572V502H263V0Z" transform="translate(20.00,0.00) scale(0.0300,-0.0300)"/></g>
<g transform="translate(736.1,258.3) rotate(-90)"><text xml:space="preserve" x="-66.00" y="0.00" font-size="30">EVI</text><text xml:space="preserve" x="-17.65" y="7.00" font-size="21">GS</text><text xml:space="preserve" x="12.70" y="0.00" font-size="30"> (yr)</text></g>
<g transform="translate(22,850.5) rotate(-90)"><text xml:space="preserve" x="-52.51" y="0.00" font-size="30">GSL (d)</text></g>
<g transform="translate(737,850.5) rotate(-90)"><text xml:space="preserve" x="-49.25" y="0.00" font-size="30">α</text><text xml:space="preserve" x="-29.91" y="7.00" font-size="21">NIR</text><text xml:space="preserve" x="4.25" y="0.00" font-size="30"> ( )</text><path d="M359 0V703H290C270 640 228 586 101 572V502H263V0Z" transform="translate(22.58,0.00) scale(0.0300,-0.0300)"/></g>
<line x1="7.9" y1="257" x2="7.9" y2="303" stroke="#000" stroke-width="2"/>
</svg>
</body></html>
